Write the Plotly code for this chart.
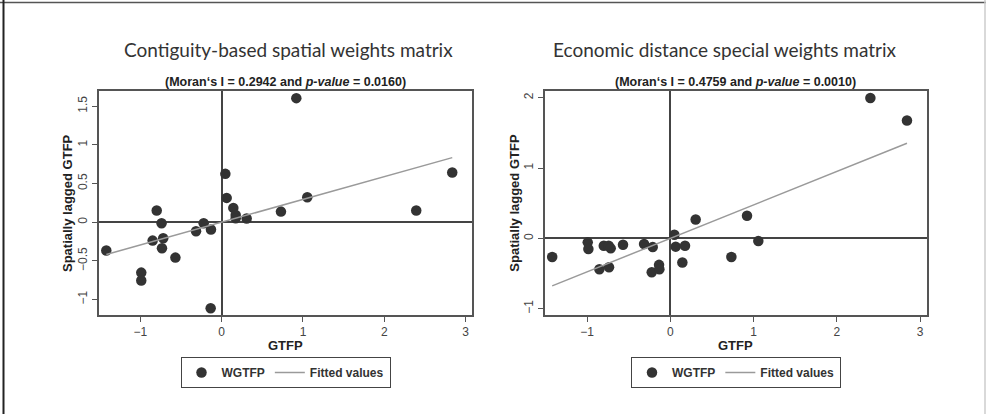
import plotly.graph_objects as go

W, H = 986, 414

# ---- data ----
gtfp_a = [-1.42, -0.99, -0.99, -0.80, -0.74, -0.85, -0.72, -0.735, -0.57, -0.316, -0.222, -0.132,
          -0.136, 0.045, 0.061, 0.143, 0.172, 0.172, 0.307, 0.729, 0.918, 1.053, 2.394, 2.837]
wgtfp_a = [-0.367, -0.652, -0.755, 0.15, -0.013, -0.238, -0.207, -0.336, -0.458, -0.117, -0.013, -0.095,
           -1.113, 0.625, 0.314, 0.185, 0.094, 0.05, 0.047, 0.137, 1.604, 0.323, 0.15, 0.642]

gtfp_b = [-1.42, -0.993, -0.985, -0.853, -0.80, -0.741, -0.717, -0.737, -0.569, -0.316, -0.212, -0.224,
          -0.136, -0.132, 0.048, 0.064, 0.144, 0.176, 0.304, 0.733, 0.921, 1.057, 2.403, 2.843]
wgtfp_b = [-0.264, -0.057, -0.151, -0.439, -0.104, -0.104, -0.142, -0.41, -0.09, -0.08, -0.123, -0.481,
           -0.377, -0.439, 0.052, -0.118, -0.344, -0.104, 0.269, -0.264, 0.321, -0.038, 1.995, 1.675]

slope_a, intercept_a = 0.2942, 0.0
slope_b, intercept_b = 0.4759, 0.0

titles = ["Contiguity-based spatial weights matrix", "Economic distance special weights matrix"]
subtitles = ["(Moran‘s I = 0.2942 and <i>p-value</i> = 0.0160)",
             "(Moran‘s I = 0.4759 and <i>p-value</i> = 0.0010)"]
xticks = [-1, 0, 1, 2, 3]
yticks_a = [-1, -0.5, 0, 0.5, 1, 1.5]
ytick_text_a = ["−1", "−0.5", "0", "0.5", "1", "1.5"]
yticks_b = [-1, 0, 1, 2]
ytick_text_b = ["−1", "0", "1", "2"]

# ---- figure ----
def px_x(p):
    return p / W

def px_y(p):
    return 1 - p / H

fig = go.Figure()
MK = dict(color="#333333", size=10.5)
LN = dict(color="#9a9a9a", width=1.5)

fig.add_trace(go.Scatter(x=gtfp_a, y=wgtfp_a, mode="markers", marker=MK, name="WGTFP",
                         xaxis="x", yaxis="y", legend="legend"))
xa0, xa1 = min(gtfp_a), max(gtfp_a)
fig.add_trace(go.Scatter(x=[xa0, xa1], y=[slope_a * xa0 + intercept_a, slope_a * xa1 + intercept_a],
                         mode="lines", line=LN, name="Fitted values", xaxis="x", yaxis="y",
                         legend="legend"))

fig.add_trace(go.Scatter(x=gtfp_b, y=wgtfp_b, mode="markers", marker=MK, name="WGTFP",
                         xaxis="x2", yaxis="y2", legend="legend2"))
xb0, xb1 = min(gtfp_b), max(gtfp_b)
fig.add_trace(go.Scatter(x=[xb0, xb1], y=[slope_b * xb0 + intercept_b, slope_b * xb1 + intercept_b],
                         mode="lines", line=LN, name="Fitted values", xaxis="x2", yaxis="y2",
                         legend="legend2"))

tickfont = dict(family="Arial", size=12, color="#444444")
common_x = dict(range=[-1.51, 3.08], tickvals=xticks, ticks="outside", ticklen=5,
                tickcolor="#555555", showline=True, mirror=True, linecolor="#555555",
                linewidth=1.5, showgrid=False, zeroline=True, zerolinecolor="#444444",
                zerolinewidth=1.5, tickfont=tickfont)
common_y = dict(ticks="outside", ticklen=5, tickcolor="#555555", showline=True, mirror=True,
                linecolor="#555555", linewidth=1.5, showgrid=False, zeroline=True,
                zerolinecolor="#444444", zerolinewidth=1.5, tickfont=tickfont, tickangle=-90)

legfont = dict(family="Arial", size=12, color="#333333", weight="bold")
yd = [px_y(315), px_y(90.7)]
fig.update_layout(
    width=W, height=H, margin=dict(l=0, r=0, t=0, b=0),
    paper_bgcolor="white", plot_bgcolor="white", showlegend=True,
    xaxis=dict(domain=[px_x(99), px_x(472)], anchor="y", **common_x),
    yaxis=dict(domain=yd, anchor="x", range=[-1.20, 1.70], tickvals=yticks_a,
               ticktext=ytick_text_a, **common_y),
    xaxis2=dict(domain=[px_x(544.7), px_x(926.7)], anchor="y2", **common_x),
    yaxis2=dict(domain=yd, anchor="x2", range=[-1.09, 2.10], tickvals=yticks_b,
                ticktext=ytick_text_b, **common_y),
    legend=dict(x=px_x(285.5), y=px_y(357), xanchor="center", yanchor="top",
                orientation="h", bordercolor="#444444", borderwidth=1, font=legfont,
                itemwidth=30, tracegroupgap=0),
    legend2=dict(x=px_x(736), y=px_y(357), xanchor="center", yanchor="top",
                 orientation="h", bordercolor="#444444", borderwidth=1, font=legfont,
                 itemwidth=30, tracegroupgap=0),
)

ann = []
title_font = dict(family="Lato", size=19, color="#333333")
sub_font = dict(family="Arial", size=12.5, color="#222222", weight="bold")
lab_font = dict(family="Arial", size=13, color="#222222", weight="bold")
for cx, title, sub, axcx, ylx in [(288, titles[0], subtitles[0], 285.5, 68),
                                  (725, titles[1], subtitles[1], 735.7, 514.7)]:
    ann.append(dict(text=title, x=px_x(cx), y=px_y(50), xref="paper", yref="paper",
                    showarrow=False, font=title_font, xanchor="center", yanchor="middle"))
    ann.append(dict(text=sub, x=px_x(axcx), y=px_y(81.5), xref="paper", yref="paper",
                    showarrow=False, font=sub_font, xanchor="center", yanchor="middle"))
    ann.append(dict(text="GTFP", x=px_x(axcx), y=px_y(345), xref="paper", yref="paper",
                    showarrow=False, font=lab_font, xanchor="center", yanchor="middle"))
    ann.append(dict(text="Spatially lagged GTFP", x=px_x(ylx), y=px_y(203), xref="paper",
                    yref="paper", showarrow=False, font=lab_font, textangle=-90,
                    xanchor="center", yanchor="middle"))
fig.update_layout(annotations=ann)

# page frame
fig.add_shape(type="line", xref="paper", yref="paper", x0=0, x1=1, y0=px_y(2.5), y1=px_y(2.5),
              line=dict(color="#555555", width=1.5))
fig.add_shape(type="line", xref="paper", yref="paper", x0=px_x(3.5), x1=px_x(3.5), y0=0, y1=1,
              line=dict(color="#222222", width=2))
fig.add_shape(type="line", xref="paper", yref="paper", x0=px_x(985), x1=px_x(985), y0=0, y1=1,
              line=dict(color="#cccccc", width=1.5))

fig.write_html("out.html", config={"displayModeBar": False},
               post_script="document.body.style.margin='0px';document.body.style.overflow='hidden';")
